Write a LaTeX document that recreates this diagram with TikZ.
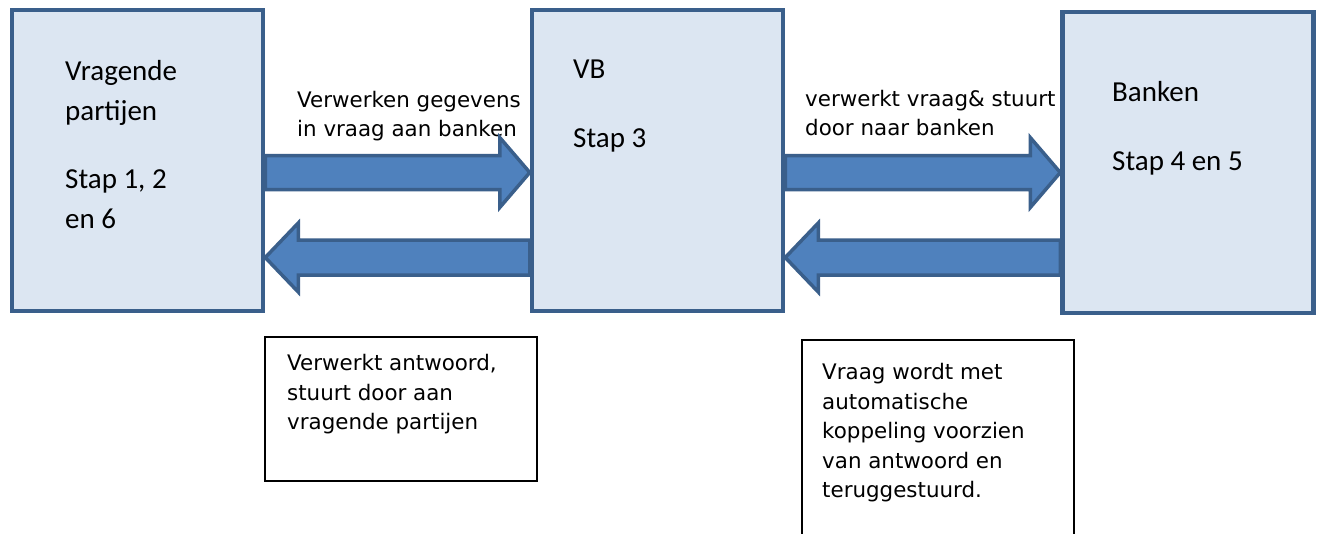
\documentclass[tikz,border=0pt]{standalone}
\usepackage{fontspec}
\newfontfamily\calib{Carlito}
\newfontfamily\verd{DejaVu Sans}
\usetikzlibrary{calc}
\definecolor{boxfill}{HTML}{DCE6F2}
\definecolor{boxline}{HTML}{3A5F8B}
\definecolor{arrfill}{HTML}{4F81BD}
\newcommand\blockRight[2]{%
  \draw[blockarrow] ($(#1)+(0,-17)$) -- ($(#2)+(-30,-17)$) -- ($(#2)+(-30,-35)$) -- (#2)
    -- ($(#2)+(-30,35)$) -- ($(#2)+(-30,17)$) -- ($(#1)+(0,17)$) -- cycle;}
\newcommand\blockLeft[2]{%
  \draw[blockarrow] ($(#1)+(0,-17.5)$) -- ($(#2)+(33,-17.5)$) -- ($(#2)+(33,-34.5)$) -- (#2)
    -- ($(#2)+(33,34.5)$) -- ($(#2)+(33,17.5)$) -- ($(#1)+(0,17.5)$) -- cycle;}
\tikzset{
  bigbox/.style={draw=boxline, fill=boxfill, line width=4.5pt, minimum width=251pt, minimum height=301pt, inner sep=0pt},
  blockarrow/.style={draw=boxline, fill=arrfill, line width=3.5pt, line join=miter},
  notebox/.style={draw=black, fill=white, line width=1.5pt, minimum width=272pt, inner sep=0pt},
  boxlabel/.style={anchor=base west, inner sep=0pt, align=left, font=\calib\fontsize{29}{40}\selectfont},
  smalllabel/.style={anchor=base west, inner sep=0pt, align=left, font=\verd\fontsize{21.4}{29.5}\selectfont},
}
\begin{document}
\begin{tikzpicture}[x=1pt,y=-1pt]
\useasboundingbox[fill=white] (0,0) rectangle (1321,533);
% main boxes
\node[bigbox] (vp) at (137.5,160.5) {};
\node[bigbox] (vb) at (657.5,160.5) {};
\node[bigbox] (bk) at (1188,162.5) {};
% labels in boxes (anchored at the baseline of the last line)
\node[boxlabel] (vpl) at (65,228) {Vragende\\partijen\\[28pt]Stap 1, 2\\en 6};
\node[boxlabel] (vbl) at (573,147) {VB\\[29pt]Stap 3};
\node[boxlabel] (bkl) at (1112,170) {Banken\\[29pt]Stap 4 en 5};
% arrow labels
\node[smalllabel] (l1) at (297,136.5) {Verwerken gegevens\\in vraag aan banken};
\node[smalllabel] (l2) at (805,135.5) {verwerkt vraag\& stuurt\\door naar banken};
% arrow anchor points
\coordinate (r1s) at (vp.east |- 0,172.5);
\coordinate (r1e) at (vb.west |- 0,172.5);
\coordinate (l1s) at (vb.west |- 0,257.5);
\coordinate (l1e) at (vp.east |- 0,257.5);
\coordinate (r2s) at (vb.east |- 0,172.5);
\coordinate (r2e) at (bk.west |- 0,172.5);
\coordinate (l2s) at (bk.west |- 0,257.5);
\coordinate (l2e) at (vb.east |- 0,257.5);
\blockRight{r1s}{r1e}
\blockLeft{l1s}{l1e}
\blockRight{r2s}{r2e}
\blockLeft{l2s}{l2e}
% note boxes
\node[notebox, minimum height=144pt] (n1) at (401,409) {};
\node[notebox, minimum height=220pt] (n2) at (938,450) {};
\node[smalllabel] (n1t) at (287,429.5) {Verwerkt antwoord,\\stuurt door aan\\vragende partijen};
\node[smalllabel] (n2t) at (822,497.5) {Vraag wordt met\\automatische\\koppeling voorzien\\van antwoord en\\teruggestuurd.};
\end{tikzpicture}
\end{document}
